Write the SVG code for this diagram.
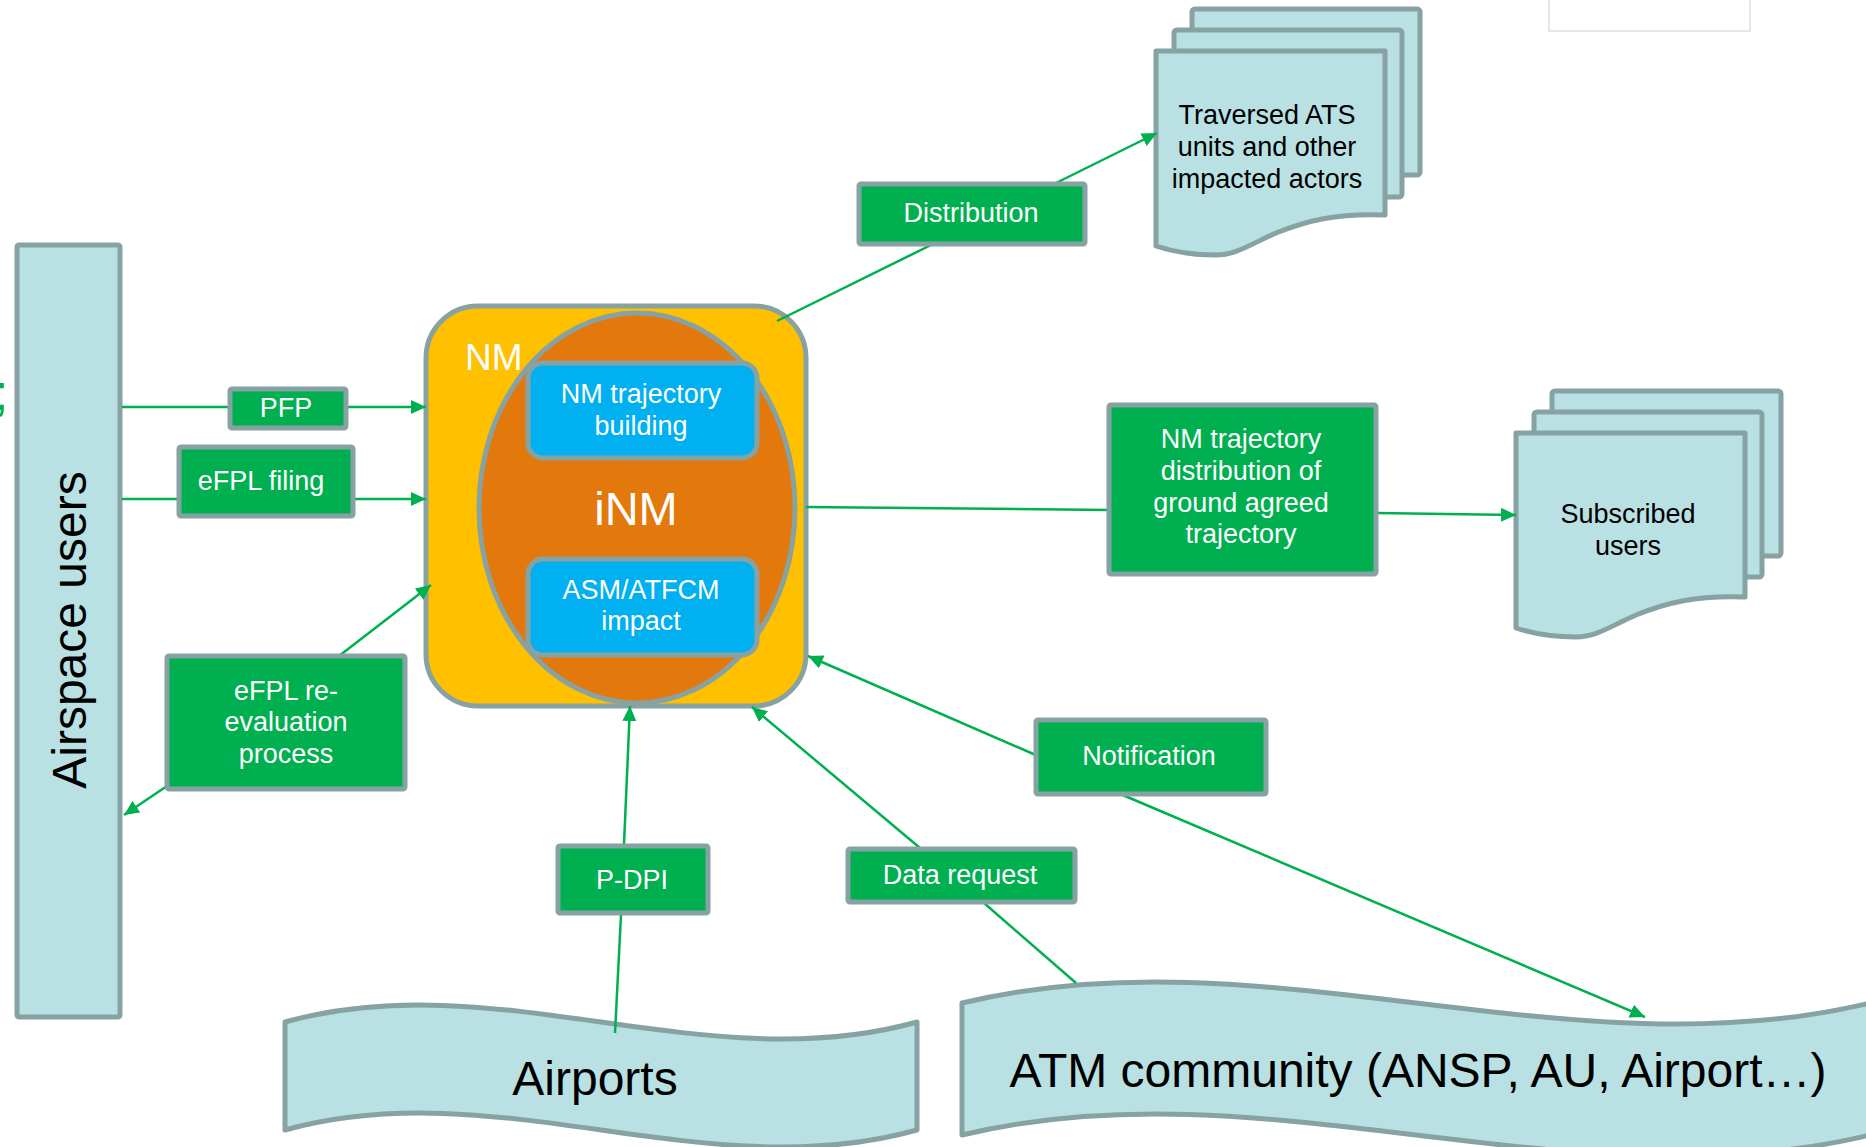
<svg xmlns="http://www.w3.org/2000/svg" width="1866" height="1147" viewBox="0 0 1866 1147">
  <style>
    .lbl{fill:#00b050;stroke:#87a2a3;stroke-width:5}
    .lt{fill:#ffffff;font-family:"Liberation Sans",Arial,sans-serif;font-size:27px;text-anchor:middle}
    .pale{fill:#b9e0e3;stroke:#87a2a3;stroke-width:5;stroke-linejoin:round}
    .dt{fill:#000000;font-family:"Liberation Sans",Arial,sans-serif;text-anchor:middle}
    .conn{fill:none;stroke:#00b050;stroke-width:2.5}
    .arr{marker-end:url(#ah)}
    .blue{fill:#00b0f0;stroke:#87a2a3;stroke-width:5}
    .wt{fill:#ffffff;font-family:"Liberation Sans",Arial,sans-serif;text-anchor:middle}
  </style>
  <defs>
    <marker id="ah" markerUnits="userSpaceOnUse" markerWidth="16" markerHeight="14" refX="15" refY="7" orient="auto">
      <path d="M0,0 L15,7 L0,14 z" fill="#00b050"/>
    </marker>
    <!-- front sheet of a document stack, origin at its top-left corner -->
    <path id="docPage" d="M0,0 H229 V164 C180,162 150,170 120,182 C95,193 80,204 60,204 C35,204 15,200 0,195 Z"/>
  </defs>

  <rect width="1866" height="1147" fill="#ffffff"/>

  <!-- faint frame at the top right -->
  <rect x="1549" y="-3" width="201" height="34" fill="#ffffff" stroke="#e6e6e6" stroke-width="2"/>

  <!-- clipped glyph at the left border -->
  <text x="-6" y="410" font-family="Liberation Sans, Arial, sans-serif" font-size="52" fill="#00b050">;</text>

  <!-- Airspace users -->
  <g id="airspace-users">
    <rect class="pale" x="17" y="245" width="103" height="772" rx="2"/>
    <text class="dt" font-size="48" transform="translate(86,630) rotate(-90)">Airspace users</text>
  </g>

  <!-- Airports -->
  <g id="airports">
    <path class="pale" d="M285,1022 C495.7,963 706.3,1081 917,1022 V1130 C706.3,1189 495.7,1071 285,1130 Z"/>
    <text class="dt" x="595" y="1095" font-size="48">Airports</text>
  </g>

  <!-- ATM community -->
  <g id="atm-community">
    <path class="pale" d="M962,1003 C1264.7,930 1567.3,1076 1870,1003 V1135 C1567.3,1208 1264.7,1062 962,1135 Z"/>
    <text class="dt" x="1418" y="1087" font-size="48">ATM community (ANSP, AU, Airport…)</text>
  </g>

  <!-- Traversed ATS units -->
  <g id="traversed-ats">
    <rect class="pale" x="1192" y="9" width="228" height="166" rx="3"/>
    <rect class="pale" x="1174" y="30" width="228" height="167" rx="3"/>
    <use href="#docPage" class="pale" transform="translate(1156,51)"/>
    <text class="dt" font-size="27" x="1267" y="124">Traversed ATS</text>
    <text class="dt" font-size="27" x="1267" y="156">units and other</text>
    <text class="dt" font-size="27" x="1267" y="188">impacted actors</text>
  </g>

  <!-- Subscribed users -->
  <g id="subscribed-users">
    <rect class="pale" x="1552" y="391" width="229" height="165" rx="3"/>
    <rect class="pale" x="1534" y="412" width="228" height="165" rx="3"/>
    <use href="#docPage" class="pale" transform="translate(1516,433)"/>
    <text class="dt" font-size="27" x="1628" y="523">Subscribed</text>
    <text class="dt" font-size="27" x="1628" y="555">users</text>
  </g>

  <!-- Network Manager -->
  <g id="nm">
    <rect x="426" y="306" width="380" height="400" rx="52" fill="#ffc000" stroke="#87a2a3" stroke-width="5"/>
    <ellipse cx="637" cy="508" rx="158" ry="195" fill="#e3780c" stroke="#87a2a3" stroke-width="5"/>
    <text x="465" y="370" font-family="Liberation Sans, Arial, sans-serif" font-size="37" fill="#ffffff">NM</text>
    <text class="wt" x="636" y="525" font-size="47">iNM</text>
  </g>
  <g id="nm-trajectory-building">
    <rect class="blue" x="528" y="363" width="229" height="95" rx="15"/>
    <text class="wt" x="641" y="403" font-size="27">NM trajectory</text>
    <text class="wt" x="641" y="435" font-size="27">building</text>
  </g>
  <g id="asm-atfcm-impact">
    <rect class="blue" x="528" y="559" width="229" height="96" rx="15"/>
    <text class="wt" x="641" y="599" font-size="27">ASM/ATFCM</text>
    <text class="wt" x="641" y="630" font-size="27">impact</text>
  </g>

  <!-- connectors -->
  <g id="connectors">
    <line class="conn" x1="122" y1="407" x2="230" y2="407"/>
    <line class="conn arr" x1="346" y1="407" x2="426" y2="407"/>
    <line class="conn" x1="122" y1="499" x2="179" y2="499"/>
    <line class="conn arr" x1="353" y1="499" x2="426" y2="499"/>
    <line class="conn arr" x1="339" y1="656" x2="431" y2="585"/>
    <line class="conn arr" x1="167" y1="786" x2="124" y2="815"/>
    <line class="conn" x1="777" y1="321" x2="933" y2="244"/>
    <line class="conn arr" x1="1056" y1="183" x2="1157" y2="133"/>
    <line class="conn" x1="806" y1="507" x2="1109" y2="510"/>
    <line class="conn arr" x1="1376" y1="513" x2="1516" y2="515"/>
    <line class="conn arr" x1="1038" y1="756" x2="808" y2="656"/>
    <line class="conn arr" x1="1118" y1="793" x2="1645" y2="1017"/>
    <line class="conn arr" x1="920" y1="848" x2="752" y2="707"/>
    <line class="conn" x1="984" y1="903" x2="1076" y2="983"/>
    <line class="conn arr" x1="624" y1="844" x2="630" y2="706"/>
    <line class="conn" x1="621" y1="915" x2="615" y2="1033"/>
  </g>

  <!-- flow labels -->
  <g id="pfp">
    <rect class="lbl" x="230" y="389" width="116" height="39" rx="2"/>
    <text class="lt" x="286" y="417">PFP</text>
  </g>
  <g id="efpl-filing">
    <rect class="lbl" x="179" y="447" width="174" height="69" rx="2"/>
    <text class="lt" x="261" y="490">eFPL filing</text>
  </g>
  <g id="efpl-reevaluation">
    <rect class="lbl" x="167" y="656" width="238" height="133" rx="2"/>
    <text class="lt" x="286" y="700">eFPL re-</text>
    <text class="lt" x="286" y="731">evaluation</text>
    <text class="lt" x="286" y="763">process</text>
  </g>
  <g id="distribution">
    <rect class="lbl" x="859" y="184" width="226" height="60" rx="2"/>
    <text class="lt" x="971" y="222">Distribution</text>
  </g>
  <g id="nm-trajectory-distribution">
    <rect class="lbl" x="1109" y="405" width="267" height="169" rx="2"/>
    <text class="lt" x="1241" y="448">NM trajectory</text>
    <text class="lt" x="1241" y="480">distribution of</text>
    <text class="lt" x="1241" y="512">ground agreed</text>
    <text class="lt" x="1241" y="543">trajectory</text>
  </g>
  <g id="notification">
    <rect class="lbl" x="1036" y="720" width="230" height="74" rx="2"/>
    <text class="lt" x="1149" y="765">Notification</text>
  </g>
  <g id="data-request">
    <rect class="lbl" x="848" y="849" width="227" height="53" rx="2"/>
    <text class="lt" x="960" y="884">Data request</text>
  </g>
  <g id="p-dpi">
    <rect class="lbl" x="558" y="846" width="150" height="67" rx="2"/>
    <text class="lt" x="632" y="889">P-DPI</text>
  </g>
</svg>
